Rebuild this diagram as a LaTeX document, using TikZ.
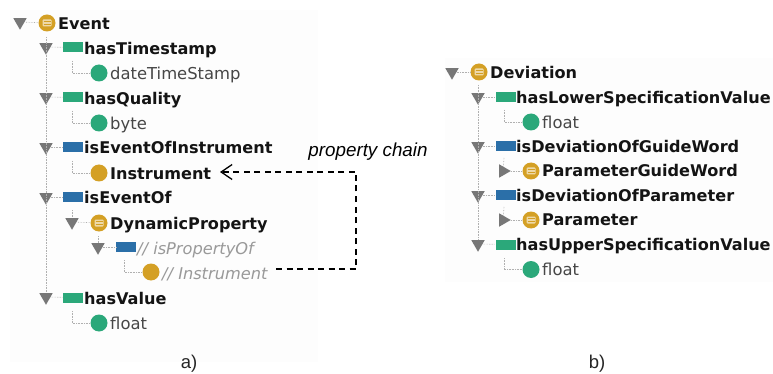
\documentclass[tikz,border=0pt]{standalone}
\usepackage{fontspec}
\setmainfont{DejaVu Sans}
\newfontfamily\labelfont{Liberation Sans}
\usetikzlibrary{shapes.geometric,arrows.meta}
\definecolor{gold}{HTML}{D4A025}
\definecolor{tealg}{HTML}{2BA87A}
\definecolor{blueb}{HTML}{2B6FA8}
\definecolor{trig}{HTML}{777777}
\definecolor{dotg}{HTML}{B0B0B0}
\definecolor{panel}{HTML}{FDFDFD}
\tikzset{
  x=1pt,y=-1pt,
  txt/.style={anchor=west,inner sep=0pt,text height=10pt,text depth=3.5pt,yshift=-2pt},
  boldt/.style={txt,font=\fontsize{16.1}{18}\selectfont\bfseries,text=black!92},
  regt/.style={txt,font=\fontsize{16.4}{18}\selectfont,text=black!72},
  grayt/.style={txt,font=\fontsize{16.2}{18}\selectfont\itshape,text=black!40},
  tridown/.style={regular polygon,regular polygon sides=3,shape border rotate=180,fill=trig,inner sep=0pt,minimum size=15.5pt},
  triright/.style={regular polygon,regular polygon sides=3,shape border rotate=-90,fill=trig,inner sep=0pt,minimum size=15.5pt},
  roundico/.style={circle,fill=#1,inner sep=0pt,minimum size=17pt},
  classico/.style={circle,fill=gold,inner sep=0pt,minimum size=17pt,
    path picture={
      \begin{scope}[shift={(path picture bounding box.center)}]
        \fill[gold!40!white,rounded corners=1pt] (-4.5,-3.5) rectangle (4.5,3.5);
        \draw[gold,line width=0.8pt] (-3.5,-1.2) -- (3.5,-1.2) (-3.5,1.2) -- (3.5,1.2);
      \end{scope}}},
  propico/.style={rectangle,fill=#1,inner sep=0pt,minimum width=20pt,minimum height=10pt},
  tree/.style={draw=dotg,line width=0.6pt,densely dotted},
  chain/.style={draw=black,line width=1.5pt,dash pattern=on 6pt off 4.5pt},
  caption/.style={inner sep=0pt,font=\labelfont\fontsize{18.5}{20}\selectfont,text=black!85},
}
\begin{document}
\begin{tikzpicture}
\useasboundingbox (0,0) rectangle (773,374);
\fill[white] (0,0) rectangle (773,374);
\fill[panel] (10,10) rectangle (318,362);
\fill[panel] (445,58) rectangle (773,282);
\begin{scope}[yshift=-1pt]

% ---------- a)
\node[tridown] (t0) at (20,21) {};
\node[classico] (c0) at (47,22) {};
\node[boldt] (l0) at (58,23) {Event};

\node[tridown] (t1) at (46,46) {};
\node[propico=tealg] (p1) at (73,46.5) {};
\node[boldt] (l1) at (84,48) {hasTimestamp};
\coordinate (k1) at (72,60);
\node[roundico=tealg] (c1) at (99,72) {};
\node[regt] (l1b) at (110,73) {dateTimeStamp};

\node[tridown] (t2) at (46,96) {};
\node[propico=tealg] (p2) at (73,96.5) {};
\node[boldt] (l2) at (84,98) {hasQuality};
\coordinate (k2) at (72,110);
\node[roundico=tealg] (c2) at (99,122) {};
\node[regt] (l2b) at (110,123) {byte};

\node[tridown] (t3) at (46,146) {};
\node[propico=blueb] (p3) at (73,146) {};
\node[boldt] (l3) at (84,147) {isEventOfInstrument};
\coordinate (k3) at (72,160);
\node[roundico=gold] (c3) at (99,172) {};
\node[boldt] (l3b) at (110,173) {Instrument};

\node[tridown] (t4) at (46,196) {};
\node[propico=blueb] (p4) at (73,196) {};
\node[boldt] (l4) at (84,197) {isEventOf};
\node[tridown] (t5) at (72,221) {};
\coordinate (k5) at (72,209);
\node[classico] (c5) at (99,222) {};
\node[boldt] (l5) at (110,223) {DynamicProperty};
\node[tridown] (t6) at (98,246) {};
\coordinate (k6) at (98,235);
\node[propico=blueb] (p6) at (126,246) {};
\node[grayt] (l6) at (137,248) {// isPropertyOf};
\coordinate (k7) at (124,259);
\node[roundico=gold] (c7) at (151,271) {};
\node[grayt] (l7) at (162,273) {// Instrument};

\node[tridown] (t8) at (46,296) {};
\node[propico=tealg] (p8) at (73,296.5) {};
\node[boldt] (l8) at (84,298) {hasValue};
\coordinate (k8) at (72,310);
\node[roundico=tealg] (c8) at (99,322) {};
\node[regt] (l8b) at (110,323) {float};

\coordinate (spine) at (46,36);
\draw[tree] (t0) -- (c0);
\draw[tree] (spine) -- (t8);
\foreach \a/\b in {t1/p1,t2/p2,t3/p3,t4/p4,t8/p8,t5/c5,t6/p6}{\draw[tree] (\a) -- (\b);}
\draw[tree] (k1) |- (c1);
\draw[tree] (k2) |- (c2);
\draw[tree] (k3) |- (c3);
\draw[tree] (k5) -- (t5);
\draw[tree] (k6) -- (t6);
\draw[tree] (k7) |- (c7);
\draw[tree] (k8) |- (c8);

% property chain
\coordinate (chainstart) at (276,268);
\coordinate (chaincorner) at (356,268);
\coordinate (chainupper) at (356,171);
\coordinate (chainend) at (220,171);
\draw[chain,-{Straight Barb[length=11pt,width=15pt,line width=1.3pt]}] (chainstart) -- (chaincorner) -- (chainupper) -- (chainend);
\node[caption,font=\labelfont\itshape\fontsize{18.8}{20}\selectfont,text=black] (pc) at (368,151) {property chain};
\node[caption] (capa) at (189,363) {a)};

% ---------- b)
\node[tridown] (dt0) at (452,71) {};
\node[classico] (dc0) at (479,71) {};
\node[boldt] (dl0) at (490,72) {Deviation};

\node[tridown] (dt1) at (478,96) {};
\node[propico=tealg] (dp1) at (505.5,96) {};
\node[boldt] (dl1) at (516,97) {hasLowerSpecificationValue};
\coordinate (dk1) at (504,109);
\node[roundico=tealg] (dc1) at (531,121) {};
\node[regt] (dl1b) at (542,122) {float};

\node[tridown] (dt2) at (478,145) {};
\node[propico=blueb] (dp2) at (505.5,145) {};
\node[boldt] (dl2) at (516,146) {isDeviationOfGuideWord};
\node[triright] (dt3) at (503,170) {};
\coordinate (dk3) at (504,157);
\node[classico] (dc3) at (531,170) {};
\node[boldt] (dl3) at (542,170.5) {ParameterGuideWord};

\node[tridown] (dt4) at (478,194) {};
\node[propico=blueb] (dp4) at (505.5,194) {};
\node[boldt] (dl4) at (516,195) {isDeviationOfParameter};
\node[triright] (dt5) at (503,219) {};
\coordinate (dk5) at (504,206);
\node[classico] (dc5) at (531,219) {};
\node[boldt] (dl5) at (542,219.5) {Parameter};

\node[tridown] (dt6) at (478,243) {};
\node[propico=tealg] (dp6) at (505.5,243.5) {};
\node[boldt] (dl6) at (516,244.5) {hasUpperSpecificationValue};
\coordinate (dk6) at (504,257);
\node[roundico=tealg] (dc6) at (531,268.5) {};
\node[regt] (dl6b) at (542,269.5) {float};

\coordinate (dspine) at (478,84);
\draw[tree] (dt0) -- (dc0);
\draw[tree] (dspine) -- (dt6);
\foreach \a/\b in {dt1/dp1,dt2/dp2,dt4/dp4,dt6/dp6,dt3/dc3,dt5/dc5}{\draw[tree] (\a) -- (\b);}
\draw[tree] (dk1) |- (dc1);
\draw[tree] (dk3) -- (dt3);
\draw[tree] (dk5) -- (dt5);
\draw[tree] (dk6) |- (dc6);
\node[caption] (capb) at (597,363) {b)};
\end{scope}
\end{tikzpicture}
\end{document}
